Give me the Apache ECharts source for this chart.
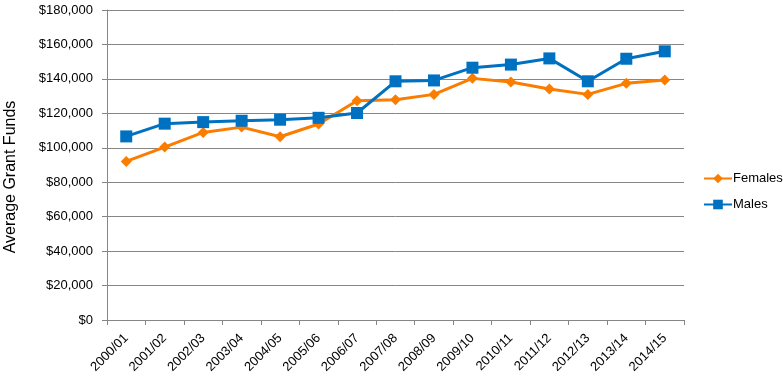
<!DOCTYPE html>
<html>
<head>
<meta charset="utf-8">
<script src="https://cdn.jsdelivr.net/npm/echarts@6/dist/echarts.min.js"></script>
<style>html,body{margin:0;padding:0;background:#fff}#c{width:783px;height:384px}</style>
</head>
<body>
<div id="c"></div>
<script>
const categories = ['2000/01','2001/02','2002/03','2003/04','2004/05','2005/06','2006/07','2007/08','2008/09','2009/10','2010/11','2011/12','2012/13','2013/14','2014/15'];
const females = [92100,100400,108900,112000,106400,113800,127300,127900,131000,140300,138200,134100,131000,137400,139300];
const males = [106600,114000,114900,115700,116300,117400,120200,138600,139100,146500,148300,151900,138600,151700,156000];
const yTicks = {min:0, max:180000, interval:20000};
const yTitle = 'Average Grant Funds';

const chart = echarts.init(document.getElementById('c'), null, {renderer:'canvas'});
const font = 'Liberation Sans';
chart.setOption({
  animation:false,
  grid:{left:107, right:99, top:10, bottom:64, containLabel:false},
  legend:{
    orient:'vertical', left:703, top:172, padding:0, itemWidth:28, itemHeight:12, itemGap:13,
    textStyle:{fontFamily:font, fontSize:13, color:'#000', padding:[0,0,0,-4], overflow:'none', width:60},
    data:['Females','Males']
  },
  graphic:[{
    type:'text', x:11, y:177, rotation:Math.PI/2,
    style:{text:yTitle, fontFamily:font, fontSize:16, fill:'#000', align:'center', verticalAlign:'middle'}
  }],
  xAxis:{
    type:'category', data:categories, boundaryGap:true,
    axisLine:{lineStyle:{color:'#868686', width:1}},
    axisTick:{show:true, alignWithLabel:false, length:5, lineStyle:{color:'#868686'}},
    axisLabel:{rotate:45, fontFamily:font, fontSize:13, color:'#000', margin:16, interval:0}
  },
  yAxis:{
    type:'value', min:yTicks.min, max:yTicks.max, interval:yTicks.interval,
    axisLine:{show:true, lineStyle:{color:'#868686', width:1}},
    axisTick:{show:true, length:5, lineStyle:{color:'#868686'}},
    splitLine:{lineStyle:{color:'#868686', width:1}},
    axisLabel:{fontFamily:font, fontSize:13, color:'#000', margin:14,
      formatter:v => '$' + v.toLocaleString('en-US')}
  },
  series:[
    {name:'Females', type:'line', data:females, symbol:'diamond', symbolSize:11,
     lineStyle:{color:'#FA7D00', width:3}, itemStyle:{color:'#FA7D00'}},
    {name:'Males', type:'line', data:males, symbol:'rect', symbolSize:12,
     lineStyle:{color:'#0070C0', width:3}, itemStyle:{color:'#0070C0'}}
  ]
});
</script>
</body>
</html>
